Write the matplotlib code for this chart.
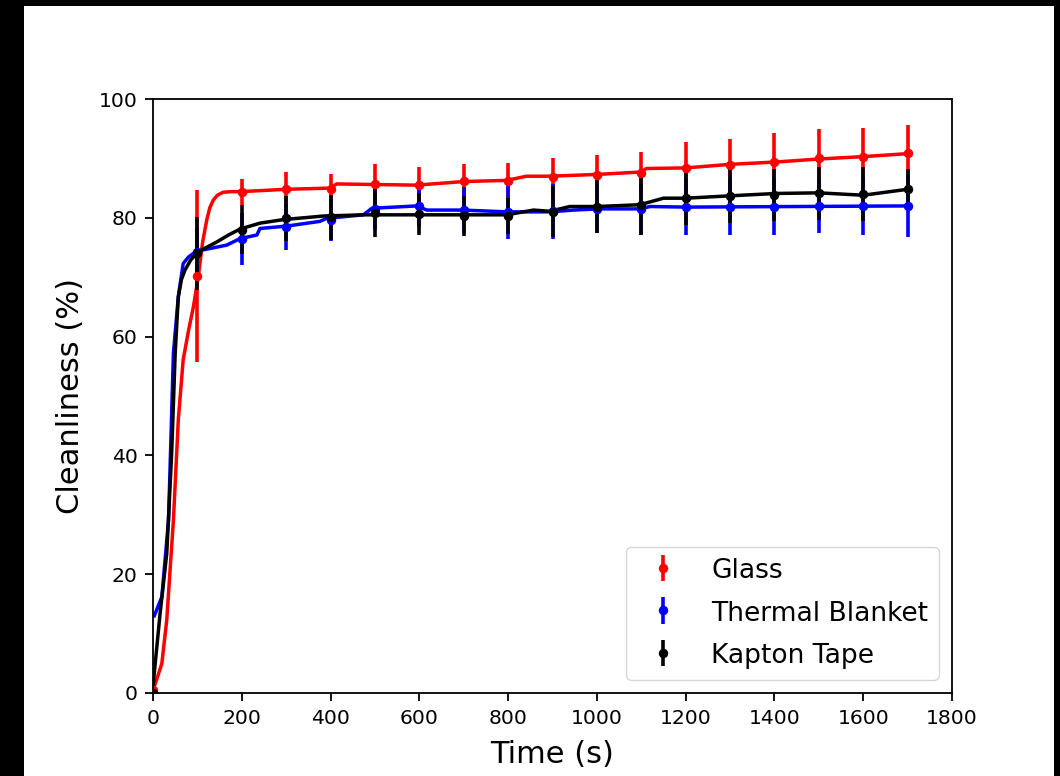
import numpy as np
import matplotlib
matplotlib.use("Agg")
import matplotlib.pyplot as plt
from matplotlib.patches import Rectangle

# traced curves (time in s, cleanliness in %)
glass_t = [0, 8, 20, 31, 46, 57, 68, 80, 91, 102, 112, 121, 128, 136, 145, 158, 175, 196, 300, 399, 414,
           594, 699, 797, 841, 894, 1000, 1097, 1112, 1200, 1300, 1405, 1500, 1600, 1700]
glass_v = [0.5, 2.2, 5.0, 12.3, 29.1, 46.0, 56.1, 61.0, 65.0, 70.1, 76.0, 79.6, 81.7, 83.0, 83.8, 84.3, 84.4, 84.4, 84.8, 85.0, 85.7,
           85.5, 86.1, 86.3, 87.0, 87.0, 87.3, 87.7, 88.3, 88.4, 89.0, 89.4, 89.9, 90.3, 90.8]

blanket_t = [3, 20, 35, 46, 57, 68, 80, 91, 113, 166, 196, 234, 241, 301, 376, 391, 474,
             493, 594, 617, 699, 797, 894, 947, 1003, 1097, 1120, 1200, 1700]
blanket_v = [13.0, 16.2, 29.1, 57.2, 66.7, 72.3, 73.4, 74.0, 74.6, 75.4, 76.5, 77.1, 78.2, 78.6, 79.4, 79.9, 80.5,
             81.6, 82.0, 81.3, 81.3, 81.0, 81.0, 81.3, 81.5, 81.5, 81.9, 81.8, 82.0]

kapton_t = [0, 2, 16, 31, 42, 50, 57, 64, 72, 85, 102, 120, 143, 170, 196, 241, 294, 384, 474, 594,
            744, 797, 857, 894, 939, 1000, 1097, 1150, 1200, 1300, 1405, 1500, 1600, 1660, 1700]
kapton_v = [0, 2.7, 13.4, 23.5, 40.3, 57.2, 66.7, 69.6, 71.2, 72.9, 74.3, 75.0, 75.9, 77.1, 78.1, 79.1, 79.7, 80.3, 80.5, 80.5,
            80.5, 80.5, 81.3, 81.1, 81.9, 81.9, 82.2, 83.3, 83.3, 83.7, 84.1, 84.2, 83.8, 84.4, 84.8]

# sampled points with error bars every 100 s
t_err = [0, 100, 200, 300, 400, 500, 600, 700, 800, 900, 1000, 1100, 1200, 1300, 1400, 1500, 1600, 1700]
glass_pts = [0.5, 70.2, 84.4, 84.8, 84.8, 85.7, 85.5, 86.2, 86.2, 86.8, 87.2, 87.6, 88.3, 88.9, 89.4, 90.0, 90.3, 90.9]
glass_err = [0, 14.4, 2.2, 2.9, 2.5, 3.3, 3.1, 2.8, 3.1, 3.2, 3.4, 3.5, 4.4, 4.4, 4.9, 4.9, 4.9, 4.8]
blanket_pts = [np.nan, 74.3, 76.4, 78.5, 79.6, 81.5, 82.0, 81.3, 81.0, 81.1, 81.4, 81.4, 81.8, 81.8, 81.8, 82.0, 82.0, 82.0]
blanket_err = [0, 4.0, 4.4, 3.9, 3.5, 3.5, 3.5, 3.9, 4.5, 4.6, 4.0, 4.3, 4.7, 4.7, 4.7, 4.6, 4.9, 5.2]
kapton_pts = [0, 74.0, 78.0, 79.9, 80.1, 80.8, 80.6, 80.3, 80.3, 81.0, 81.9, 82.2, 83.3, 83.7, 83.8, 84.1, 84.0, 84.8]
kapton_err = [0, 6.1, 4.1, 3.8, 3.8, 4.0, 3.5, 3.3, 3.0, 4.3, 4.5, 5.1, 4.5, 4.6, 4.4, 4.5, 4.5, 3.4]

fig = plt.figure(figsize=(10.6, 7.76), dpi=100, facecolor="black")
fig.add_artist(Rectangle((24 / 1060, 0), 1030 / 1060, 770 / 776,
                         transform=fig.transFigure, facecolor="white", edgecolor="none", zorder=0))
ax = fig.add_axes([153 / 1060, 83 / 776, 799 / 1060, 594 / 776])

series = [
    (glass_t, glass_v, glass_pts, glass_err, "red", "Glass"),
    (blanket_t, blanket_v, blanket_pts, blanket_err, "blue", "Thermal Blanket"),
    (kapton_t, kapton_v, kapton_pts, kapton_err, "black", "Kapton Tape"),
]
for t, v, pts, err, c, name in series:
    ax.plot(t, v, color=c, lw=2.5)
    ax.errorbar(t_err, pts, yerr=err, fmt="o", ms=5.8, color=c, elinewidth=2.6, capsize=0, label=name)

ax.set_xlim(0, 1800)
ax.set_ylim(0, 100)
ax.set_xticks(range(0, 1801, 200))
ax.set_yticks(range(0, 101, 20))
ax.tick_params(labelsize=14.7, length=5.6, width=1.3, pad=5.6)
for s in ax.spines.values():
    s.set_linewidth(1.3)
ax.set_xlabel("Time (s)", fontsize=22, labelpad=9)
ax.set_ylabel("Cleanliness (%)", fontsize=22, labelpad=10)
ax.legend(loc="lower right", fontsize=19.1, labelspacing=0.62, handleheight=0.9)

fig.savefig("out.png", dpi=100, facecolor=fig.get_facecolor())
